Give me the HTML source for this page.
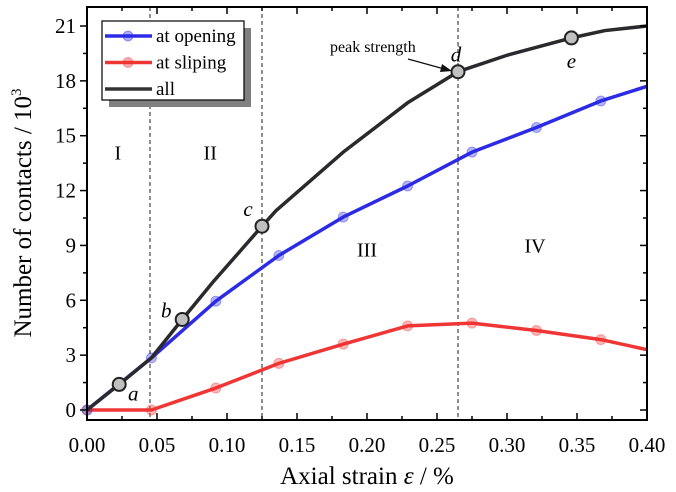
<!DOCTYPE html>
<html><head><meta charset="utf-8"><style>
body{margin:0;background:#fff;}
svg{display:block;font-family:"Liberation Serif",serif;}
text{font-family:"Liberation Serif",serif;}
</style></head><body>
<svg id="chart" width="676" height="492" viewBox="0 0 676 492"></svg>
<script>
const xTicks=[0,0.05,0.10,0.15,0.20,0.25,0.30,0.35,0.40];
const xTickLabels=["0.00","0.05","0.10","0.15","0.20","0.25","0.30","0.35","0.40"];
const yTicks=[0,3,6,9,12,15,18,21];
const yTickLabels=["0","3","6","9","12","15","18","21"];
const openX=[0,0.046,0.092,0.137,0.183,0.229,0.275,0.321,0.367,0.40];
const openY=[0,2.85,5.95,8.45,10.55,12.25,14.1,15.45,16.9,17.7];
const openMarked=[1,1,1,1,1,1,1,1,1,0];
const slipX=[0,0.046,0.092,0.137,0.183,0.229,0.275,0.321,0.367,0.40];
const slipY=[0,0,1.2,2.55,3.6,4.6,4.75,4.35,3.85,3.3];
const slipMarked=[1,1,1,1,1,1,1,1,1,0];
const allX=[0,0.023,0.046,0.068,0.09,0.125,0.135,0.183,0.229,0.265,0.30,0.346,0.37,0.40];
const allY=[0,1.4,2.85,4.95,7.0,10.05,10.9,14.1,16.8,18.5,19.4,20.35,20.75,21.0];
const keyLabels=["a","b","c","d","e"];
const keyX=[0.023,0.068,0.125,0.265,0.346];
const keyY=[1.4,4.95,10.05,18.5,20.35];
const stageX=[0.045,0.125,0.265];
const regionLabels=["I","II","III","IV"];
const regionX=[0.022,0.088,0.2,0.32];
const regionY=[13.7,13.7,8.4,8.6];

const L=87,R=647,T=7,B=420;
const sx=v=>L+v/0.40*(R-L);
const sy=v=>410-v/21*(410-26);
const svg=document.getElementById('chart');
const NS='http://www.w3.org/2000/svg';
function mk(tag,at,parent){const e=document.createElementNS(NS,tag);for(const k in at)e.setAttribute(k,at[k]);if(tag==='text')e.setAttribute('font-family','Liberation Serif, serif');(parent||svg).appendChild(e);return e;}

stageX.forEach((s,i)=>{
 const l=mk('line',{x1:sx(s),x2:sx(s),y1:T,y2:B,stroke:'#222','stroke-width':1,'stroke-dasharray':'4,3'});
 
 
});
regionLabels.forEach((t,i)=>{
 const e=mk('text',{x:sx(regionX[i]),y:sy(regionY[i]),'font-size':20,'text-anchor':'middle'});e.textContent=t;
 
 
});
function series(xs,ys,color,name,marked,w){
 const g=mk('g',{});
 
 
 const p=mk('polyline',{points:xs.map((x,i)=>sx(x)+','+sy(ys[i])).join(' '),fill:'none',stroke:color,'stroke-width':w,'stroke-linejoin':'round'},g);
 
 
 if(marked)xs.forEach((x,i)=>{if(!marked[i])return;
  const c=mk('circle',{cx:sx(x),cy:sy(ys[i]),r:5,fill:color,'fill-opacity':0.35,stroke:color,'stroke-opacity':0.4,'stroke-width':1},g);
  
  
 });
}
series(slipX,slipY,'#f03535','sliping',slipMarked,3.5);
series(openX,openY,'#2b2be6','opening',openMarked,3.5);
series(allX,allY,'#2a2a2e','all',null,3.5);
keyLabels.forEach((t,i)=>{
 const c=mk('circle',{cx:sx(keyX[i]),cy:sy(keyY[i]),r:6.5,fill:'#c0c0c0',stroke:'#222','stroke-width':2});
 
 
 const off={a:[14,10],b:[-16,-8],c:[-14,-16],d:[-2,-16],e:[0,24]}[t];
 const e=mk('text',{x:sx(keyX[i])+off[0],y:sy(keyY[i])+off[1]+6,'font-size':21,'font-style':'italic','text-anchor':'middle'});e.textContent=t;
 
 
});
const pk=mk('text',{x:330,y:52,'font-size':16});pk.textContent='peak strength';


const ar=mk('line',{x1:408,y1:59,x2:448,y2:70,stroke:'#111','stroke-width':1.3});


mk('polygon',{points:'452,71 442,64 440,72',fill:'#111'});

const fr=mk('rect',{x:L,y:T,width:R-L,height:B-T,fill:'none',stroke:'#000','stroke-width':2});


xTicks.forEach((v,i)=>{
 const x=sx(v);
 mk('line',{x1:x,x2:x,y1:B,y2:B-7,stroke:'#000','stroke-width':1.5});
 mk('line',{x1:x,x2:x,y1:T,y2:T+7,stroke:'#000','stroke-width':1.5});
 if(i<xTicks.length-1){const m=sx(v+0.025);
  mk('line',{x1:m,x2:m,y1:B,y2:B-4,stroke:'#000','stroke-width':1.5});
  mk('line',{x1:m,x2:m,y1:T,y2:T+4,stroke:'#000','stroke-width':1.5});}
 const e=mk('text',{x:x,y:452,'font-size':21,'text-anchor':'middle'});e.textContent=xTickLabels[i];
 
 
});
yTicks.forEach((v,i)=>{
 const y=sy(v);
 mk('line',{x1:L,x2:L-7,y1:y,y2:y,stroke:'#000','stroke-width':1.5});
 mk('line',{x1:R,x2:R-7,y1:y,y2:y,stroke:'#000','stroke-width':1.5});
 const m=sy(v+1.5);
 if(m>T+2){mk('line',{x1:L,x2:L-4,y1:m,y2:m,stroke:'#000','stroke-width':1.5});
  mk('line',{x1:R,x2:R-4,y1:m,y2:m,stroke:'#000','stroke-width':1.5});}
 const e=mk('text',{x:L-11,y:y+7,'font-size':21,'text-anchor':'end'});e.textContent=yTickLabels[i];
 
 
});
const xt=mk('text',{x:367,y:484,'font-size':25,'text-anchor':'middle'});
xt.innerHTML='Axial strain <tspan font-style="italic">ε</tspan> / %';


const yt=mk('text',{x:0,y:0,'font-size':25,'text-anchor':'middle',transform:'translate(31,213) rotate(-90)'});
yt.innerHTML='Number of contacts / 10<tspan font-size="15" dy="-10">3</tspan>';



const lg=mk('g',{});


mk('rect',{x:109,y:28,width:142,height:79,fill:'#808080'},lg);
mk('rect',{x:102,y:21,width:142,height:79,fill:'#fff',stroke:'#000','stroke-width':1.2},lg);
const ents=[['at opening','#2b2be6',1],['at sliping','#f03535',1],['all','#333',0]];
ents.forEach((en,i)=>{
 const y=36+i*26.5;
 const g=mk('g',{},lg);
 
 
 mk('line',{x1:105,x2:152,y1:y,y2:y,stroke:en[1],'stroke-width':3.5},g);
 if(en[2])mk('circle',{cx:128,cy:y,r:5,fill:en[1],'fill-opacity':0.4,stroke:en[1],'stroke-opacity':0.4},g);
 const t=mk('text',{x:156,y:y+6,'font-size':19},g);t.textContent=en[0];
});
</script>
</body></html>
